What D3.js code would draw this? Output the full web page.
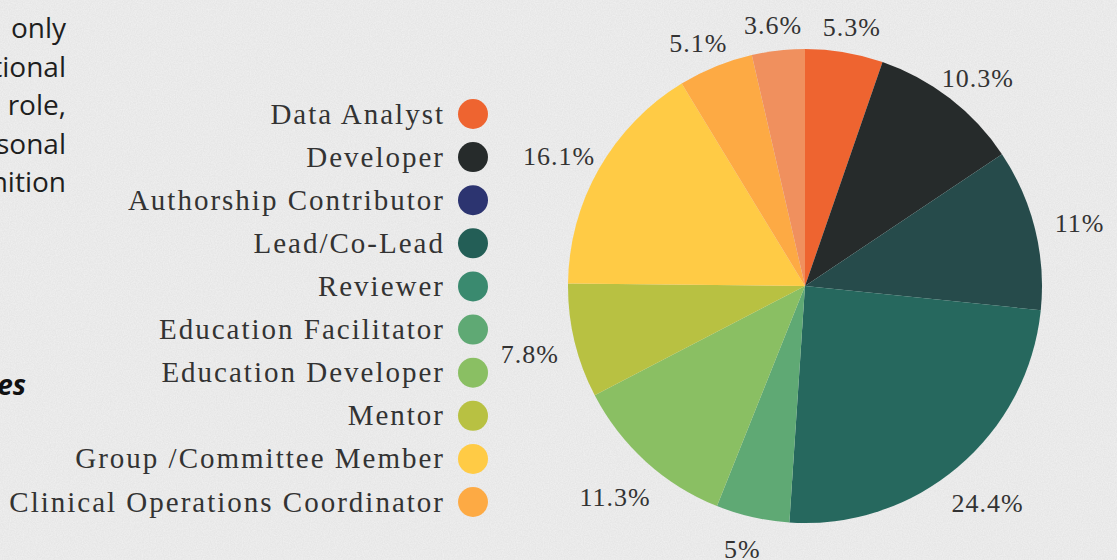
<!DOCTYPE html>
<html>
<head>
<meta charset="utf-8">
<script src="https://cdn.jsdelivr.net/npm/d3@7"></script>
<style>
  html, body { margin: 0; padding: 0; background: #ebebeb; overflow: hidden; }
  svg { display: block; }
</style>
</head>
<body>
<div id="chart"></div>
<script>
// roles, in pie order (clockwise from 12 o'clock)
var roles = ["Data Analyst", "Developer", "Authorship Contributor", "Lead/Co-Lead", "Reviewer",
  "Education Facilitator", "Education Developer", "Mentor", "Group /Committee Member",
  "Clinical Operations Coordinator", "Other"];
var shares = [5.3, 10.3, 0, 11, 24.4, 5, 11.3, 7.8, 16.1, 5.1, 3.6];
var sliceColors = ["#ee6430", "#262b2b", "#2c3470", "#264b4b", "#26685e",
  "#5fa974", "#8abf63", "#b8c142", "#ffcb45", "#fdaa44", "#f0905e"];
var legendColors = ["#ee6430", "#262b2b", "#2c3470", "#235e56", "#3a8a6f",
  "#5fa974", "#8abf63", "#b8c142", "#ffcb45", "#fdaa44", "#f0905e"];
var legendCount = 10; // the legend only shows the first ten entries

// left-hand body text, clipped by the frame
var bodyLines = ["only", "tional", "role,", "sonal", "nition"];
var headingTail = "es";

var width = 1117, height = 560;
var cx = 805, cy = 286, radius = 237;

var svg = d3.select("#chart").append("svg")
  .attr("width", width).attr("height", height);

// paper texture
var defs = svg.append("defs");
var f = defs.append("filter").attr("id", "noise").attr("x", 0).attr("y", 0).attr("width", "100%").attr("height", "100%");
f.append("feTurbulence").attr("type", "fractalNoise").attr("baseFrequency", 0.85).attr("numOctaves", 2).attr("seed", 3);
f.append("feColorMatrix").attr("type", "matrix")
  .attr("values", "0 0 0 0 1  0 0 0 0 1  0 0 0 0 1  -0.6 0 0 0 0.45");
svg.append("rect").attr("width", width).attr("height", height).attr("fill", "#e6e6e6");
svg.append("rect").attr("width", width).attr("height", height).attr("filter", "url(#noise)");

// body text
svg.append("g").selectAll("text").data(bodyLines).enter().append("text")
  .attr("x", 66)
  .attr("y", function(d, i) { return 38 + i * 38.5; })
  .attr("text-anchor", "end")
  .style("font-family", "'Open Sans', sans-serif")
  .style("font-size", "28px")
  .style("fill", "#1e1e1e")
  .text(function(d) { return d; });

svg.append("text")
  .attr("x", 26).attr("y", 395)
  .attr("text-anchor", "end")
  .style("font-family", "'Open Sans', sans-serif")
  .style("font-size", "28px").style("font-weight", "bold").style("font-style", "italic")
  .style("fill", "#111")
  .text(headingTail);

// pie
var pie = d3.pie().sort(null).value(function(d) { return d; });
var arcs = pie(shares);
var arc = d3.arc().innerRadius(0).outerRadius(radius);

var pieG = svg.append("g").attr("transform", "translate(" + cx + "," + cy + ")");
pieG.selectAll("path").data(arcs).enter().append("path")
  .attr("d", arc)
  .attr("fill", function(d, i) { return sliceColors[i]; });

// labels sit on an ellipse around the pie
var labelRx = radius + 46, labelRy = radius + 26;
function mid(d) { return (d.startAngle + d.endAngle) / 2; }
pieG.selectAll("text").data(arcs.filter(function(d) { return d.value > 0; })).enter().append("text")
  .attr("x", function(d) { return Math.sin(mid(d)) * labelRx; })
  .attr("y", function(d) { var c = -Math.cos(mid(d)); return c * (c > 0 ? labelRy + 16 * Math.sin(Math.abs(mid(d) - Math.PI)) * 2 : labelRy); })
  .attr("dy", "0.35em")
  .attr("text-anchor", "middle")
  .style("font-family", "'Liberation Serif', serif")
  .style("font-size", "26px")
  .style("letter-spacing", "1px")
  .style("fill", "#333")
  .text(function(d) { return d3.format("~")(d.value) + "%"; });

// legend
var y = d3.scalePoint().domain(roles.slice(0, legendCount)).range([114, 502]);
var legend = svg.append("g");
var items = legend.selectAll("g").data(roles.slice(0, legendCount)).enter().append("g")
  .attr("transform", function(d) { return "translate(0," + y(d) + ")"; });
items.append("circle")
  .attr("cx", 473).attr("r", 15)
  .attr("fill", function(d, i) { return legendColors[i]; });
items.append("text")
  .attr("x", 445).attr("dy", "0.33em")
  .attr("text-anchor", "end")
  .style("font-family", "'Liberation Serif', serif")
  .style("font-size", "29px")
  .style("letter-spacing", "2px")
  .style("fill", "#333")
  .text(function(d) { return d; });
</script>
</body>
</html>
